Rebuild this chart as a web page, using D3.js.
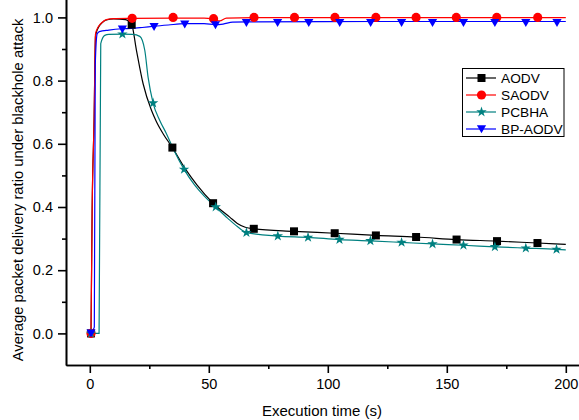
<!DOCTYPE html>
<html>
<head>
<meta charset="utf-8">
<script src="https://cdn.jsdelivr.net/npm/d3@7/dist/d3.min.js"></script>
<style>
  html, body { margin: 0; padding: 0; background: #fff; }
  svg { display: block; font-family: "Liberation Sans", Arial, sans-serif; }
</style>
</head>
<body>
<svg id="chart" width="579" height="420"></svg>
<script>
// ---- Data (time in s, delivery ratio) ----
const seriesNames = ["AODV", "SAODV", "PCBHA", "BP-AODV"];
const seriesColors = ["#000000", "#ff0000", "#008080", "#0000ff"];

const aodvLine = [[0.5,0],[1.0,0.4],[1.8,0.674],[2.4,0.94],[3,0.958],[4,0.973],[5,0.982],[7,0.992],[10,0.995],[15,0.993],[17.6,0.977],
  [19.6,0.896],[22.4,0.79],[25.9,0.706],[28,0.67],[30.8,0.632],[34.7,0.588],[40,0.522],[45,0.47],[51.8,0.412],
  [58.8,0.368],[62,0.348],[65.3,0.336],[68.9,0.331],[85.8,0.323],[102.9,0.317],[120.2,0.31],[137.1,0.305],
  [154.1,0.297],[171.1,0.292],[188.1,0.286],[200,0.282]];
const aodvMarks = [[0.5,0],[17.6,0.977],[34.7,0.588],[51.8,0.412],[68.9,0.331],[85.8,0.323],[102.9,0.317],
  [120.2,0.31],[137.1,0.305],[154.1,0.297],[171.1,0.292],[188.1,0.286]];

const saodvLine = [[0.5,0],[1.0,0.4],[1.8,0.674],[2.4,0.948],[3,0.962],[4,0.975],[5,0.983],[7,0.993],[10,0.996],
  [17.8,0.997],[35,0.998],[48,0.998],[52,0.994],[54.6,0.989],[57.4,0.998],[69,0.999],[120,0.999],[200,0.999]];
const saodvMarks = [[0.5,0],[17.8,0.997],[35,1.0],[52,0.996],[69,1.0],[86,1.0],[103,1.0],[120.2,1.0],
  [137.1,1.0],[154,1.0],[171,1.0],[188.2,1.0]];

const pcbhaLine = [[0.5,0],[3.9,0],[4.6,0.917],[6.3,0.943],[8,0.946],[13.7,0.947],[18,0.946],[21,0.94],
  [23.1,0.896],[24.5,0.81],[26.6,0.729],[29.4,0.674],[32.2,0.632],[35,0.585],[39.6,0.519],[44,0.47],
  [48,0.435],[52.9,0.4],[58,0.364],[62,0.338],[65.8,0.319],[79,0.308],[91.7,0.304],[104.9,0.297],
  [117.9,0.293],[131,0.288],[144,0.283],[157,0.279],[170.2,0.274],[183.2,0.27],[196.1,0.266],[200,0.264]];
const pcbhaMarks = [[0.5,0],[13.7,0.947],[26.6,0.729],[39.6,0.519],[52.9,0.4],[65.8,0.319],[79,0.308],
  [91.7,0.304],[104.9,0.297],[117.9,0.293],[131,0.288],[144,0.283],[157,0.279],[170.2,0.274],[183.2,0.27],[196.1,0.266]];

const bpLine = [[0.5,0],[1.9,0.02],[2.3,0.85],[3.1,0.948],[4,0.955],[8,0.96],[13.7,0.964],[17.5,0.965],
  [22,0.968],[27,0.972],[33,0.976],[39.9,0.98],[48,0.98],[52.8,0.977],[56,0.979],[60,0.985],[65.8,0.986],
  [120,0.987],[200,0.987]];
const bpMarks = [[0.5,0],[13.7,0.962],[27,0.970],[39.9,0.978],[52.8,0.976],[65.8,0.983],[78.9,0.983],[92,0.983],
  [105,0.983],[118,0.983],[131,0.983],[144,0.983],[157,0.983],[170.2,0.983],[183.2,0.983],[196.3,0.983]];

const xMajorTicks = [0, 50, 100, 150, 200];
const xMinorTicks = [25, 75, 125, 175];
const yMajorTicks = [0.0, 0.2, 0.4, 0.6, 0.8, 1.0];
const yMinorTicks = [0.1, 0.3, 0.5, 0.7, 0.9];
const xTitle = "Execution time (s)";
const yTitle = "Average packet delivery ratio under blackhole attack";

// ---- Drawing ----
const svg = d3.select("#chart");
const x = d3.scaleLinear().domain([-10, 210]).range([66, 589.6]);
const y = d3.scaleLinear().domain([-0.1, 1.1]).range([365, -14.2]);

const fontSize = 14.5;

// axes
svg.append("g").attr("transform", "translate(0,365)")
  .call(d3.axisBottom(x).tickValues(xMajorTicks).tickFormat(d3.format("d")).tickSize(8).tickSizeOuter(0).tickPadding(6));
svg.append("g").attr("transform", "translate(0,365)")
  .call(d3.axisBottom(x).tickValues(xMinorTicks).tickFormat("").tickSize(4).tickSizeOuter(0));
svg.append("g").attr("transform", "translate(66,0)")
  .call(d3.axisLeft(y).tickValues(yMajorTicks).tickFormat(d3.format(".1f")).tickSize(8).tickSizeOuter(0).tickPadding(5));
svg.append("g").attr("transform", "translate(66,0)")
  .call(d3.axisLeft(y).tickValues(yMinorTicks).tickFormat("").tickSize(4).tickSizeOuter(0));

svg.selectAll(".domain, .tick line").attr("stroke", "#000").attr("stroke-width", 1.6);
svg.selectAll(".tick text").attr("font-size", fontSize).attr("fill", "#000")
  .attr("font-family", "'Liberation Sans', Arial, sans-serif");

// titles
svg.append("text").attr("x", 322).attr("y", 416).attr("text-anchor", "middle")
  .attr("font-size", 15).attr("fill", "#000").text(xTitle);
svg.append("text").attr("transform", "translate(23,190) rotate(-90)").attr("text-anchor", "middle")
  .attr("font-size", 14.8).attr("fill", "#000").text(yTitle);

// marker drawers
function drawMarker(g, kind, color) {
  if (kind === 0) {
    g.append("rect").attr("x", -4).attr("y", -4).attr("width", 8).attr("height", 8).attr("fill", color);
  } else if (kind === 1) {
    g.append("circle").attr("r", 4.6).attr("fill", color);
  } else if (kind === 2) {
    g.append("path").attr("d", d3.symbol().type(d3.symbolStar).size(34)()).attr("fill", color);
  } else {
    g.append("path").attr("d", "M-4.6,-3.8L4.6,-3.8L0,4.2Z").attr("fill", color);
  }
}

const lines = [aodvLine, saodvLine, pcbhaLine, bpLine];
const marks = [aodvMarks, saodvMarks, pcbhaMarks, bpMarks];
const lineGen = d3.line().x(d => x(d[0])).y(d => y(d[1])).curve(d3.curveMonotoneX);

lines.forEach((data, i) => {
  svg.append("path").datum(data).attr("d", lineGen)
    .attr("fill", "none").attr("stroke", seriesColors[i]).attr("stroke-width", 1.2);
});
marks.forEach((data, i) => {
  data.forEach(d => {
    const g = svg.append("g").attr("transform", `translate(${x(d[0])},${y(d[1])})`);
    drawMarker(g, i, seriesColors[i]);
  });
});

// legend
const lg = svg.append("g");
lg.append("rect").attr("x", 462.5).attr("y", 68.5).attr("width", 101.5).attr("height", 68)
  .attr("fill", "#fff").attr("stroke", "#000").attr("stroke-width", 1);
seriesNames.forEach((name, i) => {
  const cy = 78 + i * 17;
  lg.append("line").attr("x1", 466).attr("x2", 496).attr("y1", cy).attr("y2", cy)
    .attr("stroke", seriesColors[i]).attr("stroke-width", 1.2);
  const g = lg.append("g").attr("transform", `translate(481.5,${cy})`);
  drawMarker(g, i, seriesColors[i]);
  lg.append("text").attr("x", 501).attr("y", cy + 5).attr("font-size", 13.7).attr("fill", "#000").text(name);
});
</script>
</body>
</html>
